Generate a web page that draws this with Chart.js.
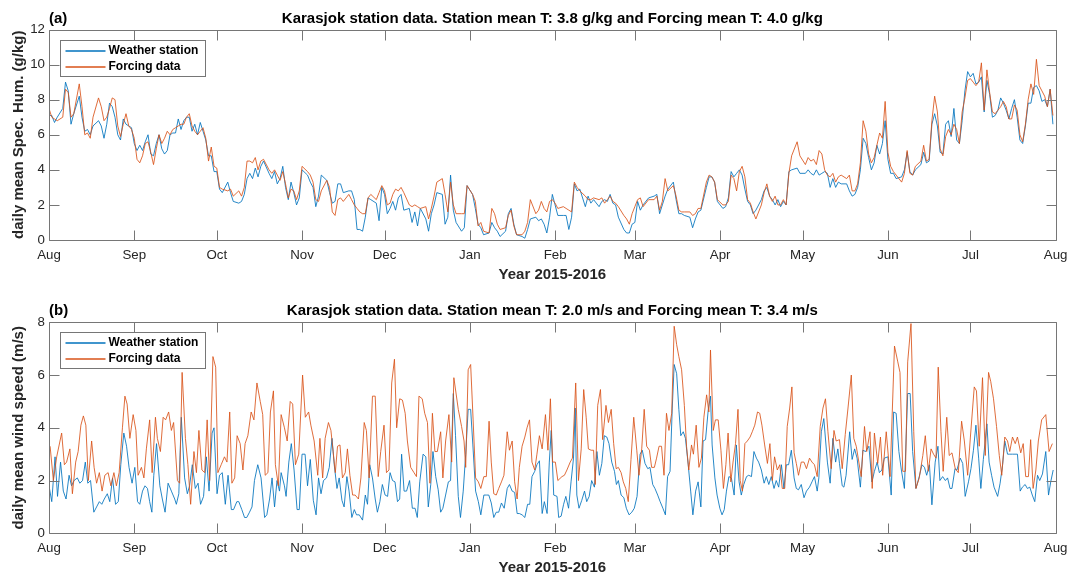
<!DOCTYPE html>
<html>
<head>
<meta charset="utf-8">
<script src="https://cdn.jsdelivr.net/npm/chart.js@4.4.1/dist/chart.umd.min.js"></script>
<style>
  html, body { margin: 0; padding: 0; background: #fff; }
  #wrap { position: relative; width: 1075px; height: 575px; }
  canvas { position: absolute; left: 0; }
</style>
</head>
<body>
<div id="wrap">
  <canvas id="humChart" width="1075" height="287" style="top:0"></canvas>
  <canvas id="windChart" width="1075" height="288" style="top:287px"></canvas>
</div>
<script>
// x axis: days since 1 Aug 2015
const monthStarts = [0, 31, 61, 92, 122, 153, 184, 213, 244, 274, 305, 335, 366];
const monthNames = ['Aug', 'Sep', 'Oct', 'Nov', 'Dec', 'Jan', 'Feb', 'Mar', 'Apr', 'May', 'Jun', 'Jul', 'Aug'];
const humTicks = [0, 2, 4, 6, 8, 10, 12];
const windTicks = [0, 2, 4, 6, 8];
const seriesNames = ['Weather station', 'Forcing data'];

// (a) daily mean specific humidity, g/kg
const humDays = [
  0,1,2,3,5,6,7,8,9,11, 12,13,14,15,16,18,19,20,21,22, 23,24,25,26,27,28,29,30,31,32,
  33,34,35,36,37,38,39,40,41,42, 43,44,45,46,47,48,49,50,51,52, 53,54,55,56,57,58,59,60,61,62,
  63,65,66,67,69,70,71,72,73,74, 75,76,77,78,80,81,82,83,84,85, 86,87,88,89,90,91,92,94,95,96,
  97,98,99,101,102,103,104,105,106,107, 109,110,111,112,113,114,115,116,117,119,
  120,121,122,123,124,125,126,127,128,129, 131,132,133,134,135,137,138,139,140,141,
  143,144,145,146,147,148,150,151,152,154, 155,156,157,158,160,161,162,163,164,166,
  167,168,169,170,172,173,174,175,177,178, 179,180,181,182,183,184,185,187,188,189,
  190,191,192,193,195,196,197,198,200,201, 202,203,204,205,206,207,209,210,211,212,
  213,214,215,216,218,220,221,222,223,224, 225,227,228,229,230,231,233,234,235,236,
  237,239,240,241,242,243,245,246,247,248, 249,250,251,252,253,254,255,256,257,259,
  260,261,262,263,264,265,266,267,268,269, 270,272,273,275,276,277,278,279,280,281,
  282,283,284,285,286,287,288,290,291,292, 293,294,295,296,297,298,299,300,301,302,
  303,304,305,306,307,308,310,311,312,313, 314,315,317,318,319,320,321,322,323,324,
  325,326,327,328,329,330,331,332,333,334, 335,336,337,338,339,340,341,342,343,344,
  345,346,347,348,349,350,351,352,353,354, 355,356,357,358,359,360,361,362,363,364,
  365
];
const stationHum = [
  7.1,7.1,6.7,7.0,7.5,9.0,8.5,6.6,7.2,8.2, 7.0,6.2,6.3,6.0,6.5,6.8,6.5,5.8,6.6,7.8, 7.6,7.0,6.0,5.7,6.9,6.6,6.5,6.4,5.5,5.1,
  5.4,5.1,5.6,6.0,4.9,4.8,5.5,6.0,5.2,4.9, 5.1,6.0,6.1,6.1,6.9,6.3,6.8,7.0,7.0,6.2, 6.6,6.0,6.7,6.2,5.7,4.8,4.8,3.9,3.9,2.9,
  2.7,3.3,2.7,2.2,2.1,2.2,2.6,3.5,3.8,3.5, 4.1,3.6,4.2,4.5,3.8,3.5,3.9,3.2,3.5,4.2, 3.0,2.3,3.3,2.7,2.0,2.4,4.0,3.7,3.3,3.0,
  1.9,2.5,3.7,3.4,2.7,2.1,2.2,3.2,3.2,2.7, 2.8,2.8,2.3,0.6,0.6,0.5,1.3,2.4,2.3,2.1,
  1.1,3.0,2.6,1.5,1.8,2.2,1.7,2.4,2.6,1.7, 1.8,1.0,1.6,0.8,1.8,1.2,0.5,1.5,2.0,2.7,
  2.6,0.9,1.3,3.7,1.7,1.0,0.5,0.7,3.1,2.6, 1.8,0.9,0.7,0.3,0.4,1.0,0.7,0.5,0.2,0.5,
  1.5,1.8,0.9,0.3,0.2,0.1,0.6,1.2,1.3,1.1, 1.2,0.9,0.4,1.3,2.6,2.0,1.4,1.4,1.4,0.6,
  1.3,3.2,2.8,2.9,1.9,2.5,2.1,2.3,1.9,2.2, 2.3,2.2,2.6,2.1,2.0,1.3,0.6,0.4,0.4,0.9,
  1.0,2.2,1.7,2.0,2.4,2.5,2.6,1.5,2.0,2.5, 2.9,3.3,2.3,1.5,1.5,1.4,1.3,0.7,1.2,1.6,
  1.7,3.0,3.6,3.6,3.3,2.2,1.8,1.9,2.4,3.9, 3.6,3.8,4.0,3.7,2.9,2.2,2.0,1.5,1.7,2.3,
  2.8,3.0,2.5,2.3,2.0,2.3,1.9,2.2,2.0,3.9, 4.0,4.1,3.8,3.8,4.0,3.8,3.7,4.0,3.7,3.8,
  3.9,3.8,3.0,3.5,3.0,3.3,3.2,3.2,2.8,2.5, 2.6,3.0,4.0,5.8,5.5,4.7,4.0,4.4,5.4,4.9,
  5.5,6.8,4.6,3.8,3.8,3.5,3.6,4.0,5.0,3.9, 3.7,4.0,4.3,5.0,4.4,4.5,6.6,7.2,6.5,5.0,
  4.9,6.6,6.8,5.9,7.5,5.7,5.5,6.8,8.5,9.6, 9.3,9.5,8.9,9.0,9.3,7.3,9.1,8.3,7.0,7.1,
  7.4,8.1,7.8,7.4,6.9,7.5,8.0,7.0,5.7,5.5, 6.5,7.8,7.8,8.7,8.8,8.5,7.9,8.0,7.6,8.6,
  6.6
];
const forcingHum = [
  7.5,7.0,6.9,6.8,7.0,8.6,8.4,7.0,7.2,8.9, 7.6,6.0,6.1,5.8,7.0,8.1,7.6,6.8,7.0,7.5, 8.1,8.0,6.5,5.9,6.6,7.2,6.5,6.3,5.8,4.6,
  4.4,4.8,5.5,5.6,5.0,4.3,5.2,6.0,5.5,5.8, 6.2,6.0,6.3,6.4,6.5,6.6,6.6,7.0,7.2,6.5, 6.2,6.0,6.2,6.4,5.8,4.5,5.3,4.2,4.1,3.0,
  2.9,2.8,2.9,2.5,2.8,2.5,3.0,4.5,4.5,4.4, 4.7,4.0,4.5,4.6,4.0,3.8,4.0,3.7,3.4,3.9, 3.2,2.4,2.9,2.8,2.3,2.8,4.2,3.9,3.7,3.3,
  2.3,2.2,2.8,3.4,3.0,1.6,1.4,2.3,2.4,2.2, 2.6,2.3,2.0,1.8,1.6,1.5,1.5,2.4,2.6,2.3,
  2.7,3.1,2.8,2.0,2.1,2.6,2.9,2.8,3.0,2.7, 2.0,1.9,2.0,1.9,1.8,1.9,1.2,1.8,2.5,3.3,
  3.5,2.6,1.6,3.3,2.0,1.5,1.5,1.5,3.1,2.6, 2.2,0.8,1.0,0.5,0.4,1.8,1.5,0.9,0.6,0.7,
  1.4,1.7,0.8,0.3,0.3,0.5,1.0,2.3,1.5,1.7, 2.2,1.8,1.6,2.2,2.3,2.1,1.8,1.9,1.8,1.7,
  1.6,3.3,3.0,2.8,2.5,2.3,2.3,2.4,2.3,2.4, 2.1,2.3,2.5,2.2,2.1,1.9,1.4,1.2,0.9,1.5,
  1.9,2.3,2.4,1.9,2.3,2.3,2.5,1.7,2.2,3.5, 2.8,3.1,2.5,1.7,1.6,1.6,1.6,1.4,1.5,1.8,
  1.8,3.3,3.7,3.6,3.3,2.3,2.0,2.0,2.2,3.7, 3.5,2.8,3.9,4.2,3.6,2.3,2.1,1.6,1.2,2.0,
  2.7,3.2,2.5,2.2,2.5,2.0,2.0,2.3,2.0,3.8, 4.8,5.6,4.8,4.3,4.7,4.5,4.6,4.3,5.1,4.9,
  4.0,3.7,3.6,3.8,3.3,3.6,3.7,3.5,3.7,2.8, 2.8,3.2,4.4,6.8,6.2,4.9,4.4,4.7,5.4,6.1,
  5.8,7.9,5.0,4.2,3.9,3.7,3.3,3.8,5.1,3.8, 3.7,4.2,4.5,5.4,4.5,4.6,6.8,8.2,7.3,5.2,
  4.8,5.9,6.3,6.0,6.6,6.3,5.5,7.3,8.1,9.1, 9.2,9.0,8.8,9.0,10.1,7.4,9.7,8.4,7.3,7.2,
  7.4,7.6,7.9,7.6,6.9,6.9,7.7,7.4,6.0,5.6, 6.6,8.0,8.9,8.3,10.3,8.8,8.5,8.2,7.6,8.6,
  7.1
];

// (b) daily mean wind speed, m/s (station and forcing read at their own days)
const stationWindDays = [
  0,1,2.2,3.1,4.2,5.2,6.2,7.3,8.2,9.1, 10.3,11.2,12.2,13.2,14.1,15.1,16.3,17.3,18.3,19.2,
  20.1,21.2,22.1,23.1,24.2,25.2,26.1,27.2,28.2,29.1, 30.2,31.2,32.2,33,34,34.9,35.8,36.6,37.4,38.1,
  39.1,40.3,41.2,42.2,43.3,44.5,45.7,46.3,47.2,48.1, 49.3,50.3,51.1,52.1,53.2,54.2,55.1,56.2,57.2,58.2,
  59.3,60,61.1,62,63,64.1,65.1,66.3,67.1,68.3, 69,70.1,71.1,71.9,72.9,73.8,74.7,75.9,77.1,78.4,
  79.2,80.2,81.1,82,82.9,83.8,84.4,85.6,86.2,87.2, 88.1,89.1,90.2,91,
  92,93.1,94,95,96.1,97.1,98,98.9,99.8,100.9, 101.9,102.9,103.7,104.7,105.5,106.5,107.3,108.3,109.1,110.1,
  111,111.8,112.8,114,115,115.8,116.6,117.6,118.6,119.4, 120.3,121.2,122.2,123.1,124,124.9,125.8,126.7,127.5,128.2,
  129.1,130,131.1,132.1,133.1,133.9,134.8,136,137,137.9, 138.8,139.6,140.6,141.5,142.4,143.2,144.2,145.2,146,147,
  147.8,148.8,149.6,150.6,151.5,152.4,153.3,154.1,155.1,156.1, 157,158.1,159,159.9,160.8,161.7,162.6,163.5,164.5,165.5,
  166.6,167.4,168.4,169.3,170.2,171,172,173,174,174.8, 175.6,176.6,177.4,178.3,179.3,180.1,181.1,181.9,182.6,183.5,
  184.7,185.3,
  186.2,187.1,187.9,188.9,189.8,190.7,191.3,191.9,192.7,193.7, 194.7,195.5,196.4,197.3,198.3,199.2,200.1,201,201.9,202.8,
  203.6,204.6,205.6,206.3,207,208,209,209.9,210.9,211.9, 212.8,213.8,214.9,215.7,216.7,217.7,218.5,219.5,220.3,221.3,
  222.2,223.2,224.1,224.9,225.8,226.6,227.3,228.2,229,229.7, 230.6,231.4,232.4,233.3,234.1,235.1,236,237,237.8,238.7,
  239.7,240.5,241.1,242.1,242.9,243.9,244.7,245.5,246.3,247.2, 248.1,249.1,249.9,250.9,251.7,252.6,253.6,254.4,255.4,256.3,
  257.2,258,259,260,260.8,261.7,262.6,263.6,264.4,265.3, 266.3,267.2,268.1,268.9,269.9,270.9,271.7,272.5,273.5,274.5,
  275.4,276.5,277.4,278.3,279.3,
  279.9,280.8,281.7,283,284,285,286,286.8,287.4,288.4, 289,289.8,291.1,292,292.9,293.8,295,295.9,296.9,298.1,
  299.2,300.1,301.1,301.9,302.8,303.7,305,306.2,307.1,308, 309,309.9,311,312.2,313.1,314,315.2,316.4,317.4,318.3,
  319.1,320.1,321,322.2,323.2,323.9,324.9,325.9,326.7,327.6, 328.3,329.4,330.1,331.3,332.2,333.1,334.3,335.2,336.1,337,
  338,338.8,339.7,341,341.8,342.7,343.6,344.9,345.8,346.7, 347.5,348.5,349.3,350.3,352.1,353.1,353.9,354.9,355.7,356.6,
  357.5,358.4,359.4,360.2,361.2,362.4,363.4,364.2,365.1
];
const stationWind = [
  1.8,1.2,2.9,1.4,2.7,1.6,1.3,2.2,1.8,2.0, 2.1,1.9,2.0,2.7,1.9,2.0,0.8,1.0,1.2,1.1,
  1.3,1.5,1.2,2.1,1.1,1.2,2.6,3.8,3.3,2.5, 1.9,2.5,1.2,1.1,1.6,1.8,1.7,1.2,0.8,2.2,
  3.4,1.8,1.3,0.8,1.9,1.6,1.3,1.1,1.5,4.4, 2.1,1.5,1.8,2.6,1.7,1.9,1.1,1.4,2.9,1.6,
  3.8,4.0,1.5,2.2,2.3,1.1,2.2,0.9,0.9,1.2, 1.2,0.9,0.6,0.6,0.8,1.0,2.0,2.6,2.1,0.6,
  0.7,1.3,2.1,1.0,2.0,1.6,2.3,1.8,1.4,2.7, 3.4,2.4,0.9,0.9,
  3.0,3.0,1.8,2.8,1.25,0.7,2.1,1.5,2.0,2.1, 2.5,3.6,2.6,1.7,2.1,1.25,1.0,2.15,1.6,0.6,
  0.9,0.7,0.7,0.5,1.45,1.1,2.6,2.1,1.3,0.8, 1.2,1.85,1.45,1.4,2.3,2.0,1.95,1.2,1.3,3.0,
  1.6,1.6,2.0,0.95,0.95,0.6,1.95,3.0,2.9,1.0, 1.85,3.1,2.15,1.65,0.8,0.95,1.45,1.95,2.0,5.3,
  3.7,1.4,0.6,1.6,3.0,4.7,4.7,3.35,1.6,1.2, 0.7,1.45,1.45,1.45,1.15,0.6,0.8,0.8,1.15,0.95,
  1.7,1.85,1.6,1.55,0.75,0.75,0.7,0.6,1.1,1.1, 2.15,2.35,2.6,2.75,0.75,1.2,0.75,2.7,3.9,1.45,
  1.4,0.6,
  0.65,1.1,1.4,0.95,1.95,2.85,4.75,1.45,0.95,1.25, 1.6,1.2,1.4,2.0,1.75,3.1,2.2,2.65,3.7,3.65,
  3.4,2.7,2.35,1.85,2.0,1.45,1.35,0.95,0.7,0.8, 0.95,1.4,3.0,3.15,2.65,2.45,2.5,1.85,1.7,1.45,
  1.2,0.95,0.7,2.15,2.35,4.75,6.4,6.05,4.7,3.7, 3.85,3.6,2.6,1.6,0.7,1.6,1.95,1.0,3.5,3.55,
  4.7,5.2,3.35,2.1,1.45,0.95,0.7,0.9,1.6,2.15, 2.1,1.45,3.35,1.95,1.45,1.85,2.15,2.2,2.15,3.1,
  2.85,2.7,2.4,1.9,2.15,1.85,2.15,1.7,2.0,1.75, 2.6,1.7,2.6,2.6,3.15,2.1,1.7,1.65,1.85,1.35,
  1.6,1.75,1.95,2.15,1.6,
  2.1,3.85,4.35,2.7,1.9,3.6,2.7,3.2,2.65,1.8, 1.75,2.2,3.85,2.8,3.2,2.85,1.75,3.15,3.1,3.3,
  1.95,2.35,2.7,2.3,2.4,2.85,2.9,1.45,4.6,4.55, 3.1,2.4,1.7,5.3,5.3,3.1,1.7,2.15,2.6,2.5,
  2.2,2.6,1.08,2.7,3.3,2.0,2.15,2.0,2.1,1.7, 1.7,2.45,2.4,2.85,2.65,1.4,1.95,2.45,3.15,4.1,
  2.85,1.7,2.8,4.15,2.7,2.2,1.75,1.4,1.9,2.6, 3.5,3.0,3.0,3.0,3.0,1.6,1.75,1.85,1.7,1.75,
  1.45,1.2,2.2,2.0,2.25,3.1,1.45,1.95,2.4
];
const forcingWindDays = [
  0.4,1.6,2.8,4.6,5.6,6.4,7.6,8.5,9.7,10.6, 11.6,12.5,13.4,14.3,15.5,16.4,17.3,18.3,19.3,20.3,
  21.5,22.5,23.6,24.5,25.5,26.7,27.6,28.4,29.4,30.6, 31.6,32.4,33.6,34.5,35.4,36.6,37.5,38.7,39.4,40.5,
  41.5,42.4,43.5,44.5,45.3,46.7,47.5,48.4,49.6,50.5, 51.5,52.7,53.6,54.5,55.6,56.6,57.5,58.4,59.6,60.6,
  61.4,62.6,63.8,64.7,65.7,66.5,67.5,68.4,69.5,70.5, 71.3,72.3,73.5,74.5,75.6,76.8,77.7,78.6,79.6,80.5,
  81.6,82.3,83.4,84.4,85.6,86.6,87.7,88.6,89.6,90.8,
  92.2,93.2,94.4,95.2,96.4,97.7,98.5,99.5,100.4,101.6, 102.5,103.3,104.1,104.9,105.8,106.7,107.7,108.5,109.4,110.4,
  111.3,112.5,113.4,114.6,115.4,116.4,117.6,118.6,119.7,120.6, 121.8,122.7,123.6,124.6,125.6,126.4,127.5,128.5,129.5,130.3,
  131.5,132.7,133.6,134.5,135.7,136.6,137.6,138.5,139.4,140.3, 141.2,142.4,143.2,144.2,145.4,146.4,147.2,148.8,150,150.9,
  151.5,152.4,153.3,154.2,155.1,156.1,157,158.1,159,160, 160.8,161.7,162.6,163.5,164.5,165.4,166.6,167.4,168.4,169.3,
  170.2,171,172,173,173.8,174.7,175.6,176.6,177.4,178.3, 179.3,180.5,181.4,182.3,183.1,184.1,185,
  186.5,187.4,188.3,189.5,190.3,191.1,191.5,192.5,193.5,194.4, 195.3,196.1,197.1,198,198.6,199.5,200.5,201.3,202.5,203.4,
  204.4,205.3,206.2,207,208,208.8,209.7,210.6,211.6,212.6, 213.7,214.5,215.5,216.4,217.3,218.3,219.1,220.1,220.9,221.8,
  222.7,223.6,224.5,225.4,226.4,227.3,228.2,229,230,231, 231.8,232.6,233.6,234.3,235.3,236.3,237.2,238.1,239.1,239.9,
  240.5,241.5,242.3,243.3,244.3,245.2,246.1,246.9,247.9,248.7, 249.6,250.5,251.3,252.1,253,253.9,254.9,255.7,256.6,257.6,
  258.4,259.2,260.2,261.2,262.1,263,263.8,264.8,265.7,266.6, 267.5,268.4,269.3,270.1,270.9,271.7,272.5,273.5,274.5,275.4,
  276.5,277.4,278.3,279.3,
  280.4,281.4,282.3,283.2,284.4,285.4,286.2,287.4,288.4,289.5, 290.5,291.7,292.6,293.5,295.3,296.5,297.3,298.5,299.3,300.1,
  301.3,302.3,303.1,304.4,305.8,307.4,308.6,309.4,310.4,311.4, 312.2,313.4,314.4,315.2,316.4,317.7,318.6,319.7,320.7,321.6,
  322.5,323.3,324.3,325.1,326.4,327.3,328.3,329.5,330.6,331.8, 332.8,334,335,336.4,337.2,338.2,339.4,340.4,341.6,342.4,
  343.4,344.5,345.5,346.4,347.5,348.5,349.3,350.3,351.3,352.1, 353.3,354.2,355.1,356.1,356.9,357.8,358.8,359.7,360.9,362.4,
  363.6,364.8
];
const forcingWind = [
  3.3,2.0,2.9,3.8,2.6,2.7,3.2,1.5,2.7,3.1, 4.1,4.45,4.1,2.0,3.5,2.5,1.9,2.3,1.6,2.2,
  2.3,1.8,2.3,1.8,2.3,4.0,5.2,4.9,3.6,4.5, 3.9,2.2,2.5,2.1,3.2,4.3,2.3,4.4,3.6,3.1,
  4.4,4.3,4.6,3.9,4.2,2.0,1.9,6.1,3.6,2.6, 1.1,3.1,2.3,3.9,2.4,2.3,4.3,2.0,6.7,6.3,
  2.3,2.6,2.9,2.7,4.6,1.9,2.1,3.7,3.4,2.4, 3.4,3.7,4.6,4.3,5.7,5.0,4.5,2.2,2.3,4.6,
  5.4,2.6,1.8,4.5,4.0,3.5,5.0,4.9,2.6,3.0,
  6.0,4.4,4.6,4.1,3.5,2.2,3.6,2.1,3.6,4.2, 3.9,3.1,2.3,3.3,3.35,2.1,2.3,3.2,2.2,1.45,
  1.45,1.3,2.1,4.2,3.9,2.1,5.2,5.2,2.15,3.1, 4.1,2.3,2.4,5.7,6.6,4.0,5.1,5.05,4.55,3.5,
  2.5,2.3,2.15,5.2,5.1,4.55,4.2,1.9,4.55,3.1, 3.1,3.85,2.1,3.5,4.5,2.7,5.9,4.7,4.05,3.5,
  2.5,6.2,6.4,4.3,2.1,1.95,1.7,2.15,2.15,4.25, 2.7,1.5,1.45,1.7,1.95,2.2,3.85,3.15,3.5,1.95,
  1.3,2.5,3.3,3.65,4.0,4.3,2.7,2.4,3.0,3.7, 3.2,4.5,3.15,5.1,2.7,2.7,2.0,
  2.15,2.2,2.4,2.7,2.85,4.75,5.7,2.0,3.2,5.45, 4.4,3.2,3.15,3.15,1.85,4.85,5.45,3.55,4.85,4.2,
  4.7,3.4,2.45,2.5,2.3,1.95,1.7,1.2,2.8,4.4, 3.15,2.2,3.2,4.7,3.3,3.15,2.5,2.5,2.85,3.3,
  3.3,2.2,4.55,3.9,4.55,7.85,7.15,6.7,6.2,4.85, 3.3,2.4,3.35,3.0,4.1,2.5,2.85,4.4,5.25,4.6,
  6.95,3.9,4.3,4.3,3.15,1.7,2.6,3.8,1.95,2.7, 3.4,4.7,2.0,1.6,3.4,3.5,3.65,3.85,4.1,4.6,
  4.55,4.1,3.35,2.65,3.4,2.0,2.9,2.4,2.6,1.7, 1.7,4.05,4.75,5.55,3.05,2.65,2.2,2.7,2.7,2.45,
  2.85,2.7,2.6,2.15,
  4.05,4.75,5.1,3.85,2.45,3.9,3.5,3.55,2.45,3.75, 4.75,6.0,3.6,3.3,2.15,4.05,3.1,3.85,1.7,3.8,
  2.65,3.65,2.2,3.85,2.15,7.1,6.5,6.1,2.35,2.35, 6.5,7.95,3.85,1.7,2.1,2.95,3.7,2.35,3.2,3.0,
  2.85,6.3,3.85,2.35,4.4,2.95,3.05,2.45,2.3,4.25, 3.5,2.2,3.65,5.55,5.4,3.3,5.9,2.95,6.1,5.75,
  5.1,4.05,2.95,2.2,3.65,3.5,3.1,3.65,3.4,3.65, 3.05,3.4,2.15,2.15,3.55,1.7,2.4,3.5,4.3,4.5,
  3.1,3.4
];

const FONT = '"Liberation Sans", Arial, Helvetica, sans-serif';
const AXIS = '#262626';
const FRAME = '#767676';
const BLUE = '#0072BD';
const ORANGE = '#D95319';

Chart.defaults.font.family = FONT;

const toPoints = (days, vals) => days.map((d, i) => ({ x: d, y: vals[i] }));

// MATLAB-like box, inward ticks, legend and labels
const matlabAxes = {
  id: 'matlabAxes',
  afterDraw(chart, args, o) {
    const { ctx, chartArea: a, scales: { x, y } } = chart;
    const L = Math.round(a.left) + 0.5, R = Math.round(a.right) + 0.5;
    const T = Math.round(a.top) + 0.5, B = Math.round(a.bottom) + 0.5;
    ctx.save();
    ctx.strokeStyle = FRAME;
    ctx.lineWidth = 1;
    ctx.beginPath();
    ctx.rect(L, T, R - L, B - T);
    x.ticks.forEach(t => {
      const px = Math.round(x.getPixelForValue(t.value)) + 0.5;
      ctx.moveTo(px, B); ctx.lineTo(px, B - 10);
      ctx.moveTo(px, T); ctx.lineTo(px, T + 10);
    });
    y.ticks.forEach(t => {
      const py = Math.round(y.getPixelForValue(t.value)) + 0.5;
      ctx.moveTo(L, py); ctx.lineTo(L + 10, py);
      ctx.moveTo(R, py); ctx.lineTo(R - 10, py);
    });
    ctx.stroke();

    // legend
    const lx = L + 11, ly = T + 10;
    ctx.fillStyle = '#fff';
    ctx.fillRect(lx, ly, 145, 36);
    ctx.strokeRect(lx, ly, 145, 36);
    ctx.font = 'bold 12px ' + FONT;
    ctx.textAlign = 'left';
    ctx.textBaseline = 'middle';
    chart.data.datasets.forEach((ds, i) => {
      const yy = Math.round(ly + 10.5 + i * 15.5);
      ctx.strokeStyle = ds.borderColor;
      ctx.lineWidth = 1.4;
      ctx.beginPath();
      ctx.moveTo(lx + 5, yy); ctx.lineTo(lx + 45, yy);
      ctx.stroke();
      ctx.fillStyle = '#000';
      ctx.fillText(ds.label, lx + 48, yy);
    });

    // titles and axis labels
    const cx = (a.left + a.right) / 2;
    ctx.font = 'bold 15px ' + FONT;
    ctx.fillStyle = '#000';
    ctx.textAlign = 'left';
    ctx.fillText(o.tag, a.left, a.top - 11);
    ctx.textAlign = 'center';
    ctx.fillText(o.title, cx, a.top - 11);
    ctx.fillStyle = AXIS;
    ctx.fillText(o.xLabel, cx, a.bottom + 35);
    ctx.translate(19, (a.top + a.bottom) / 2);
    ctx.rotate(-Math.PI / 2);
    ctx.fillText(o.yLabel, 0, 0);
    ctx.restore();
  }
};

function makePanel(id, cfg) {
  const tickFont = { family: FONT, size: 13.3 };
  return new Chart(document.getElementById(id), {
    type: 'line',
    data: {
      datasets: [
        { label: seriesNames[0], data: toPoints(cfg.stationDays, cfg.station), borderColor: BLUE,
          borderWidth: 0.85, pointRadius: 0, tension: 0, fill: false, order: 1 },
        { label: seriesNames[1], data: toPoints(cfg.forcingDays, cfg.forcing), borderColor: ORANGE,
          borderWidth: 0.85, pointRadius: 0, tension: 0, fill: false, order: 0 }
      ]
    },
    options: {
      responsive: false,
      animation: false,
      events: [],
      layout: { padding: { left: 0, right: 16, top: cfg.padTop, bottom: 0 } },
      plugins: {
        legend: { display: false },
        tooltip: { enabled: false },
        matlabAxes: { tag: cfg.tag, title: cfg.title, xLabel: 'Year 2015-2016', yLabel: cfg.yLabel }
      },
      scales: {
        x: {
          type: 'linear', min: 0, max: 366,
          afterBuildTicks: s => { s.ticks = monthStarts.map(v => ({ value: v })); },
          afterFit: s => { s.height = cfg.xHeight; },
          ticks: { autoSkip: false, maxRotation: 0, padding: 7.5, color: AXIS, font: tickFont,
                   callback: v => monthNames[monthStarts.indexOf(v)] },
          grid: { display: false, drawTicks: false },
          border: { display: false }
        },
        y: {
          min: 0, max: cfg.yTicks[cfg.yTicks.length - 1],
          afterBuildTicks: s => { s.ticks = cfg.yTicks.map(v => ({ value: v })); },
          afterFit: s => { s.width = 49; },
          ticks: { padding: 4, color: AXIS, font: tickFont },
          grid: { display: false, drawTicks: false },
          border: { display: false }
        }
      }
    },
    plugins: [matlabAxes]
  });
}

makePanel('humChart', {
  tag: '(a)',
  title: 'Karasjok station data. Station mean T: 3.8 g/kg and Forcing mean T: 4.0 g/kg',
  yLabel: 'daily mean Spec. Hum. (g/kg)',
  stationDays: humDays, station: stationHum,
  forcingDays: humDays, forcing: forcingHum,
  yTicks: humTicks, padTop: 29.5, xHeight: 47
});

makePanel('windChart', {
  tag: '(b)',
  title: 'Karasjok station data. Station mean T: 2.0 m/s and Forcing mean T: 3.4 m/s',
  yLabel: 'daily mean wind speed (m/s)',
  stationDays: stationWindDays, station: stationWind,
  forcingDays: forcingWindDays, forcing: forcingWind,
  yTicks: windTicks, padTop: 35.3, xHeight: 41.7
});
</script>
</body>
</html>
